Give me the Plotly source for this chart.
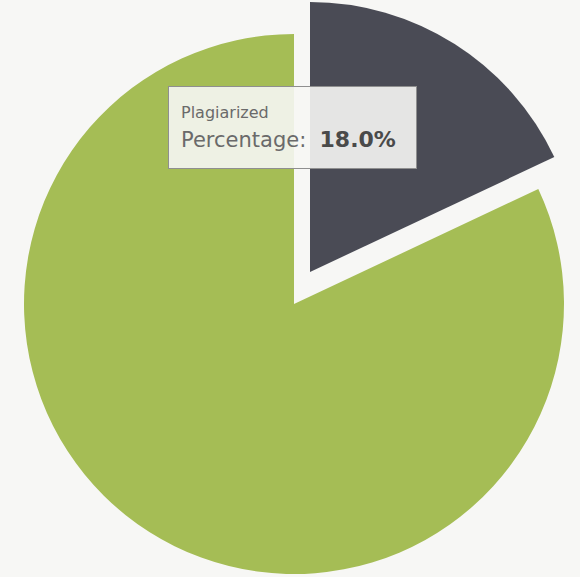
import plotly.graph_objects as go

labels = ["Plagiarized", "Original"]
values = [18.0, 82.0]
colors = ["#4a4b55", "#a5bd55"]

tooltip_title = "Plagiarized"
tooltip_label = "Percentage:"
tooltip_value = f"{values[0]:.1f}%"

W, H = 580, 577
R = 270  # pie radius in px


def dom(cx, cy):
    # domain (paper fractions) for a pie of radius R centred at pixel (cx, cy)
    return dict(x=[(cx - R) / W, (cx + R) / W],
                y=[(H - cy - R) / H, (H - cy + R) / H])


common = dict(labels=labels, values=values, sort=False, direction="clockwise",
              rotation=0, textinfo="none", hoverinfo="skip", showlegend=False)

fig = go.Figure()
# main (unpulled) part: only the "Original" slice is visible
fig.add_trace(go.Pie(
    marker=dict(colors=["rgba(0,0,0,0)", colors[1]], line=dict(width=0)),
    domain=dom(294, 304), **common))
# exploded "Plagiarized" slice, shifted up-right
fig.add_trace(go.Pie(
    marker=dict(colors=[colors[0], "rgba(0,0,0,0)"], line=dict(width=0)),
    domain=dom(310, 272), **common))

fig.add_annotation(
    xref="paper", yref="paper",
    x=292 / W, y=1 - 127 / H,
    xanchor="center", yanchor="middle",
    showarrow=False,
    align="left",
    width=223, height=57,
    text=(f"<span style='font-size:16px;color:#6a6a6a'>{tooltip_title}</span><br>"
          f"<span style='font-size:21px;color:#6a6a6a'>{tooltip_label}&nbsp; </span>"
          f"<b style='font-size:22px;color:#4a4a4a'>{tooltip_value}</b>"),
    font=dict(family="DejaVu Sans", size=22, color="#555555"),
    bgcolor="rgba(246,246,244,0.9)",
    bordercolor="#8f8f8f",
    borderwidth=1,
    borderpad=12,
)

fig.update_layout(
    width=W, height=H,
    margin=dict(l=0, r=0, t=0, b=0),
    paper_bgcolor="#f7f7f5",
    plot_bgcolor="#f7f7f5",
)

fig.write_html("out.html", config={"displayModeBar": False},
               post_script="document.body.style.margin='0';")
